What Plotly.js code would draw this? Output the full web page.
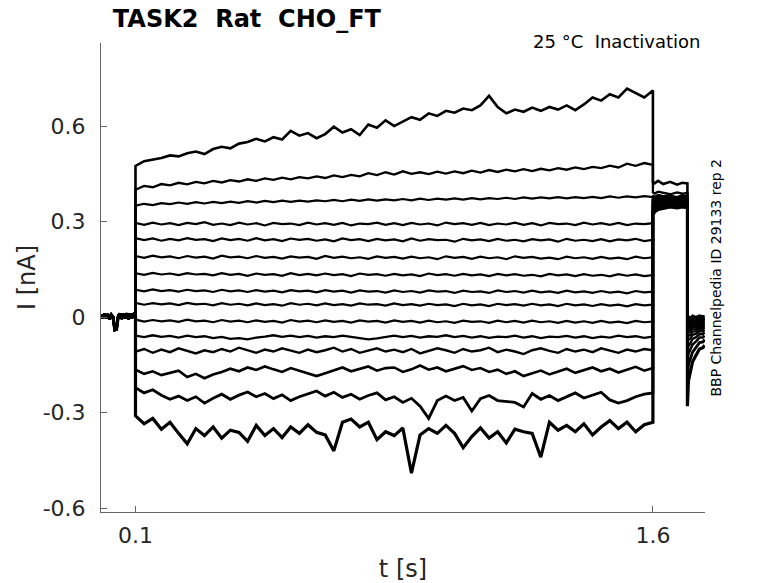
<!DOCTYPE html>
<html>
<head>
<meta charset="utf-8">
<script src="https://cdn.plot.ly/plotly-3.0.1.min.js"></script>
<style>
  body { margin: 0; background: #fff; }
  #mydiv { width: 778px; height: 583px; }
</style>
</head>
<body>
<div id="mydiv"></div>
<script>
// sweep times in seconds, currents in pA (converted to nA below)
var tHold = [0, 0.005, 0.01, 0.015, 0.02, 0.025, 0.03, 0.035, 0.04, 0.045, 0.05,
             0.055, 0.06, 0.065, 0.07, 0.075, 0.08, 0.085, 0.09, 0.095, 0.1];
var iHold = [8, -4, 10, -2, 9, -6, 7, 0, -40, -38, 3, 11, -5, 9, -3, 12, -6, 10, -2, 9, 4];

var tStep = [0.1, 0.125, 0.15, 0.175, 0.2, 0.225, 0.25, 0.275, 0.3, 0.325,
             0.35, 0.375, 0.4, 0.425, 0.45, 0.475, 0.5, 0.525, 0.55, 0.575,
             0.6, 0.625, 0.65, 0.675, 0.7, 0.725, 0.75, 0.775, 0.8, 0.825,
             0.85, 0.875, 0.9, 0.925, 0.95, 0.975, 1.0, 1.025, 1.05, 1.075,
             1.1, 1.125, 1.15, 1.175, 1.2, 1.225, 1.25, 1.275, 1.3, 1.325,
             1.35, 1.375, 1.4, 1.425, 1.45, 1.475, 1.5, 1.525, 1.55, 1.575, 1.6];

var tTest = [1.6, 1.605, 1.615, 1.63, 1.65, 1.67, 1.685, 1.7];
var tTail = [1.7, 1.703, 1.708, 1.715, 1.725, 1.735, 1.745, 1.75];

var step1 = [475, 490, 495, 500, 508, 505, 515, 520, 512, 528, 535, 530, 545, 550, 560, 552, 565, 558, 585, 570,
             578, 562, 575, 598, 580, 590, 572, 605, 595, 618, 600, 615, 628, 620, 640, 632, 648, 642, 655, 650,
             665, 695, 660, 640, 652, 645, 658, 648, 660, 652, 665, 650, 668, 690, 680, 700, 690, 718, 705, 690, 712];
var step2 = [400, 412, 408, 418, 414, 422, 417, 425, 420, 428, 423, 430, 426, 433, 428, 436, 431, 438, 433, 440,
             436, 442, 437, 445, 440, 447, 442, 452, 446, 455, 448, 458, 450, 455, 449, 457, 451, 458, 452, 460,
             454, 462, 456, 463, 458, 465, 459, 466, 461, 468, 463, 470, 465, 472, 468, 476, 470, 482, 475, 484, 478];
var step3 = [350, 356, 352, 358, 355, 360, 356, 361, 357, 362, 358, 363, 359, 364, 360, 365, 361, 366, 362, 366,
             363, 367, 364, 368, 364, 369, 365, 370, 366, 370, 367, 371, 367, 372, 368, 372, 369, 373, 369, 374,
             370, 374, 371, 375, 371, 376, 372, 376, 373, 377, 373, 377, 374, 378, 374, 379, 375, 379, 376, 380, 377];
var step4 = [296, 290, 297, 291, 295, 289, 296, 292, 298, 290, 294, 289, 297, 291, 295, 288, 296, 292, 294, 289,
             297, 291, 295, 290, 296, 288, 294, 292, 297, 290, 295, 289, 296, 291, 294, 288, 297, 292, 295, 290,
             296, 289, 294, 291, 297, 290, 295, 288, 296, 292, 294, 289, 297, 291, 295, 290, 296, 289, 294, 292, 295];
var step5 = [248, 242, 247, 240, 246, 241, 248, 243, 245, 239, 247, 242, 246, 240, 248, 241, 245, 239, 247, 243,
             246, 240, 244, 238, 247, 242, 245, 239, 246, 241, 244, 238, 247, 240, 245, 242, 243, 237, 246, 241,
             244, 239, 246, 240, 243, 238, 245, 241, 244, 237, 246, 240, 243, 239, 245, 238, 244, 241, 246, 239, 243];
var step6 = [192, 186, 193, 188, 191, 185, 192, 187, 190, 184, 193, 188, 190, 185, 192, 186, 189, 184, 191, 187,
             189, 183, 192, 186, 190, 185, 188, 183, 191, 186, 189, 184, 190, 185, 188, 182, 191, 186, 189, 183,
             190, 185, 188, 182, 191, 186, 189, 184, 187, 182, 190, 185, 188, 183, 189, 184, 187, 182, 190, 185, 188];
var step7 = [138, 133, 139, 134, 137, 132, 138, 134, 136, 131, 138, 133, 136, 130, 137, 133, 135, 130, 138, 132,
             136, 131, 137, 132, 135, 129, 137, 133, 135, 130, 136, 131, 134, 129, 137, 132, 135, 130, 136, 131,
             134, 129, 136, 131, 135, 130, 133, 128, 136, 131, 134, 129, 135, 130, 133, 128, 135, 130, 134, 129, 132];
var step8 = [86, 81, 87, 82, 85, 80, 86, 82, 84, 79, 86, 81, 84, 79, 85, 80, 83, 78, 85, 81,
             83, 78, 85, 80, 83, 77, 84, 80, 82, 77, 84, 79, 82, 77, 84, 80, 82, 76, 83, 79,
             81, 76, 84, 79, 82, 77, 83, 78, 81, 76, 83, 78, 81, 76, 82, 77, 80, 75, 82, 78, 80];
var step9 = [45, 39, 44, 40, 43, 38, 45, 40, 42, 37, 44, 39, 42, 37, 43, 38, 41, 36, 44, 39,
             42, 37, 43, 38, 41, 36, 43, 39, 41, 36, 43, 38, 41, 36, 42, 38, 40, 35, 42, 37,
             40, 35, 42, 38, 41, 36, 42, 37, 40, 35, 42, 37, 40, 35, 41, 36, 39, 34, 41, 37, 39];
var step10 = [-8, -14, -9, -13, -10, -15, -8, -13, -11, -16, -9, -14, -11, -16, -10, -15, -12, -17, -9, -14,
              -11, -16, -10, -15, -12, -17, -10, -14, -12, -17, -10, -15, -12, -17, -11, -16, -13, -18, -11, -15,
              -13, -18, -11, -16, -12, -17, -11, -16, -13, -18, -12, -17, -13, -18, -12, -17, -14, -19, -12, -16, -14];
var step11 = [-58, -63, -57, -62, -59, -64, -58, -63, -60, -66, -62, -68, -66, -70, -64, -61, -57, -62, -58, -63,
              -59, -64, -60, -63, -58, -62, -65, -70, -67, -62, -58, -63, -59, -64, -60, -62, -57, -63, -59, -64,
              -60, -65, -61, -63, -58, -64, -60, -66, -61, -63, -59, -64, -60, -66, -61, -64, -58, -63, -60, -65, -61];
var step12 = [-108, -100, -112, -102, -110, -98, -106, -114, -104, -110, -100, -108, -96, -104, -112, -102, -108, -98, -106, -112,
              -102, -110, -104, -96, -108, -100, -112, -104, -98, -108, -102, -110, -100, -114, -106, -98, -104, -112, -100, -108,
              -104, -96, -110, -102, -108, -116, -104, -98, -106, -112, -100, -108, -102, -110, -98, -106, -112, -102, -108, -100, -104];
var step13 = [-165, -178, -170, -182, -175, -168, -188, -178, -192, -180, -172, -162, -170, -158, -166, -155, -164, -172, -160, -168,
              -175, -185, -176, -168, -158, -170, -162, -155, -168, -160, -158, -172, -164, -152, -165, -158, -170, -162, -154, -166,
              -160, -172, -165, -178, -170, -185, -176, -168, -180, -172, -162, -175, -166, -158, -170, -162, -174, -164, -156, -168, -160];
var step14 = [-222, -238, -228, -245, -258, -248, -262, -250, -270, -255, -242, -258, -245, -235, -250, -240, -256, -244, -262, -250,
              -240, -232, -248, -236, -252, -242, -258, -246, -238, -260, -250, -268, -255, -280, -318, -262, -248, -262, -252, -295,
              -256, -246, -262, -265, -268, -282, -240, -258, -246, -262, -250, -238, -254, -244, -236, -260, -270, -262, -250, -242, -238];
var step15 = [-310, -335, -318, -352, -330, -365, -398, -350, -372, -345, -380, -355, -362, -390, -340, -372, -350, -378, -345, -365,
              -338, -362, -370, -420, -330, -320, -345, -330, -385, -360, -372, -348, -490, -370, -350, -365, -340, -365, -410, -375,
              -348, -380, -360, -395, -352, -360, -365, -440, -330, -355, -340, -360, -335, -370, -345, -325, -350, -330, -360, -338, -330];

var testI = [
  [425, 420, 428, 418, 425, 416, 422, 420],
  [392, 388, 394, 390, 386, 392, 388, 390],
  [382, 378, 384, 380, 382, 377, 383, 380],
  [378, 374, 380, 376, 378, 374, 379, 376],
  [375, 371, 377, 373, 375, 371, 376, 373],
  [372, 368, 374, 370, 372, 368, 373, 370],
  [369, 366, 371, 367, 370, 366, 370, 368],
  [366, 363, 368, 365, 367, 363, 367, 365],
  [363, 360, 365, 362, 364, 360, 364, 362],
  [358, 358, 362, 359, 361, 358, 361, 359],
  [352, 354, 358, 356, 358, 355, 358, 356],
  [345, 350, 354, 353, 355, 352, 355, 353],
  [338, 344, 350, 350, 352, 349, 352, 350],
  [330, 337, 344, 346, 349, 346, 349, 347],
  [322, 330, 338, 342, 346, 343, 346, 344]
];
var tailI = [
  [-5, 2, -3, 4, 0, 5, 2, 4],
  [-12, -6, -9, -3, -6, 0, -4, -2],
  [-18, -10, -14, -8, -10, -5, -8, -5],
  [-24, -15, -18, -12, -14, -9, -11, -9],
  [-30, -20, -23, -16, -18, -13, -15, -12],
  [-36, -26, -28, -21, -22, -17, -19, -16],
  [-44, -32, -34, -26, -27, -21, -23, -20],
  [-52, -40, -40, -32, -32, -26, -28, -24],
  [-62, -48, -47, -38, -38, -31, -33, -29],
  [-74, -58, -56, -46, -44, -37, -38, -34],
  [-90, -72, -68, -56, -52, -44, -45, -40],
  [-110, -90, -84, -68, -63, -53, -54, -48],
  [-140, -115, -104, -86, -76, -64, -64, -58],
  [-185, -150, -135, -110, -95, -80, -78, -70],
  [-280, -200, -175, -140, -120, -100, -96, -88]
];

var steps = [step1, step2, step3, step4, step5, step6, step7, step8,
             step9, step10, step11, step12, step13, step14, step15];

// noisier sweeps are drawn a bit heavier
var lineWidths = [2.6, 2.3, 2.2, 2.2, 2.2, 2.2, 2.2, 2.2, 2.2, 2.2, 2.3, 2.4, 2.6, 2.8, 3.2];

var font = 'DejaVu Sans, Liberation Sans, sans-serif';
var data = [];
for (var k = 0; k < steps.length; k++) {
    var t = tHold.concat(tStep, tTest, tTail);
    var cur = iHold.concat(steps[k], testI[k], tailI[k]).map(function (v) { return v / 1000; });
    data.push({
        x: t,
        y: cur,
        type: 'scatter',
        mode: 'lines',
        line: { color: '#000', width: lineWidths[k] },
        hoverinfo: 'skip',
        showlegend: false
    });
}

var layout = {
    width: 778,
    height: 583,
    margin: { l: 101, r: 73, t: 43, b: 71 },
    paper_bgcolor: '#fff',
    plot_bgcolor: '#fff',
    font: { family: font, color: '#262626' },
    title: {
        text: '<b>TASK2\u00a0\u00a0Rat\u00a0\u00a0CHO_FT</b>',
        font: { family: font, size: 24, color: '#000' },
        x: 0.145, xref: 'container', xanchor: 'left',
        y: 0.968, yref: 'container', yanchor: 'middle'
    },
    xaxis: {
        range: [0, 1.751],
        tickvals: [0.1, 1.6],
        ticktext: ['0.1', '1.6'],
        ticks: 'inside', ticklen: 6, tickcolor: '#666', tickwidth: 1,
        showline: true, linecolor: '#666', linewidth: 1,
        showgrid: false, zeroline: false,
        ticklabelstandoff: 4,
        tickfont: { family: font, size: 22, color: '#262626' },
        title: { text: 't [s]', font: { family: font, size: 24, color: '#262626' }, standoff: 12 }
    },
    yaxis: {
        range: [-0.612, 0.861],
        tickvals: [-0.6, -0.3, 0, 0.3, 0.6],
        ticktext: ['-0.6', '-0.3', '0', '0.3', '0.6'],
        ticks: 'inside', ticklen: 6, tickcolor: '#666', tickwidth: 1,
        showline: true, linecolor: '#666', linewidth: 1,
        showgrid: false, zeroline: false,
        ticklabelstandoff: 10,
        tickfont: { family: font, size: 22, color: '#262626' },
        title: { text: 'I [nA]', font: { family: font, size: 24, color: '#262626' }, standoff: 0 }
    },
    annotations: [
        {
            text: '25 °C\u00a0\u00a0Inactivation',
            xref: 'paper', yref: 'paper', x: 0.997, y: 1.004,
            xanchor: 'right', yanchor: 'middle', showarrow: false,
            font: { family: font, size: 18, color: '#000' }
        },
        {
            text: 'BBP Channelpedia ID 29133 rep 2',
            xref: 'paper', yref: 'paper', x: 1.019, y: 0.501,
            xanchor: 'center', yanchor: 'middle', textangle: -90, showarrow: false,
            font: { family: font, size: 14, color: '#000' }
        }
    ]
};

Plotly.newPlot('mydiv', data, layout, { displayModeBar: false, staticPlot: true });
</script>
</body>
</html>
